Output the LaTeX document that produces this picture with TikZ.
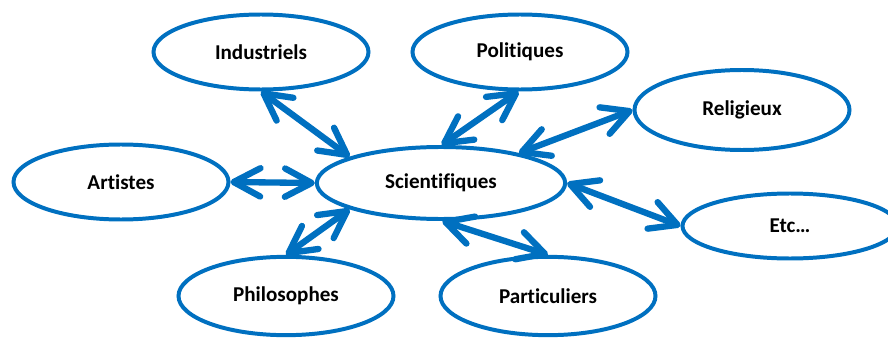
\documentclass[tikz,border=0pt]{standalone}
\usepackage{fontspec}
\setmainfont{Carlito}[Ligatures=CommonOff]
\usetikzlibrary{shapes.geometric,arrows.meta}
\definecolor{bleu}{RGB}{0,112,192}
\begin{document}
\begin{tikzpicture}[%
  x=0.03cm, y=-0.03cm,
  nodestyle/.style={%
    ellipse,
    minimum width=6.45cm,
    minimum height=2.25cm,
    inner sep=0pt,
    text centered,
    draw=bleu,
    line width=3.4pt,
    font=\fontsize{18}{22}\selectfont\bfseries,
  },
  arrowstyle/.style={%
    draw=bleu,
    line width=5.4pt,
    line cap=round,
    >={Straight Barb[length=0.8cm,width=0.85cm,round]},
    <->,
  }
]
  \useasboundingbox (0,0) rectangle (888,338);
  \node [nodestyle] (ind) at (261,52) {Industriels};
  \node [nodestyle] (pol) at (520,52) {Politiques};
  \node [nodestyle, minimum height=2.4cm] (rel) at (742,110) {Religieux};
  \node [nodestyle] (art) at (121,182) {Artistes};
  \node [nodestyle, minimum width=7.45cm, minimum height=2.16cm] (sci) at (441,183) {Scientifiques};
  \node [nodestyle, minimum height=1.95cm] (etc) at (790,226) {Etc\dots};
  \node [nodestyle, minimum height=2.35cm] (phi) at (286,296) {Philosophes};
  \node [nodestyle, minimum height=2.35cm] (par) at (548,296) {Particuliers};
  \draw [arrowstyle] (ind.-90) -- (sci.164);
  \draw [arrowstyle] (pol.-92) -- (sci.89);
  \draw [arrowstyle] (rel.west) -- (sci.21);
  \draw [arrowstyle] (art.east) -- (sci.west);
  \draw [arrowstyle] (etc.west) -- (sci.east);
  \draw [arrowstyle] (phi.north) -- (sci.-164);
  \draw [arrowstyle] (par.north) -- (sci.-88);
\end{tikzpicture}
\end{document}
